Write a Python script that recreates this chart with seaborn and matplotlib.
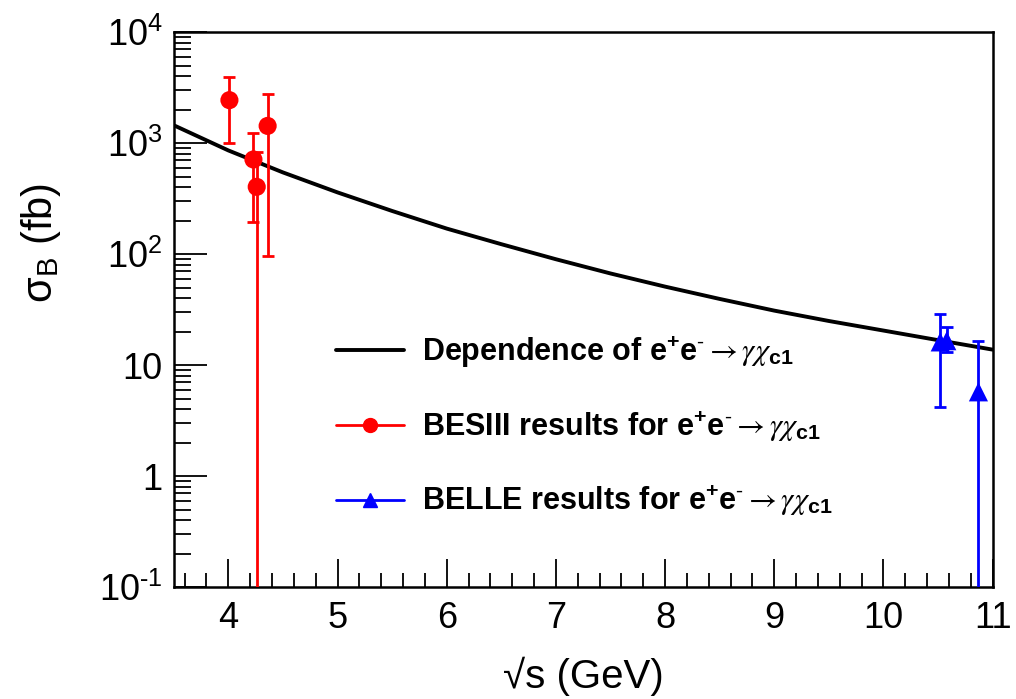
import numpy as np
import pandas as pd
import seaborn as sns
import matplotlib
matplotlib.use("Agg")
import matplotlib.pyplot as plt
from matplotlib.lines import Line2D
from matplotlib.ticker import FixedLocator, FixedFormatter, LogLocator, NullFormatter, MultipleLocator

# theory curve
curve_x = [3.5, 4.0, 4.5, 5.0, 5.5, 6.0, 6.5, 7.0, 7.5, 8.0, 8.5, 9.0, 9.5, 10.0, 10.5, 11.0]
curve_y = [1450, 860, 545, 360, 245, 170, 123, 90, 67, 51, 39.5, 31, 25, 20.5, 16.8, 13.8]

# BESIII points
bes_x = [4.01, 4.23, 4.26, 4.36]
bes_y = [2440, 713, 404, 1430]
bes_hi = [3940, 1240, 830, 2760]
bes_lo = [1000, 193, 0.0, 97]

# BELLE points
belle_x = [10.52, 10.58, 10.87]
belle_y = [16.2, 16.6, 5.75]
belle_hi = [28.8, 21.9, 16.4]
belle_lo = [4.2, 13.2, 0.0]

y_ticks = [0.1, 1, 10, 100, 1000, 10000]
y_tick_labels = ['$\\mathregular{10^{\\text{-}1}}$', '1', '10', r'$\mathregular{10^{2}}$',
                 r'$\mathregular{10^{3}}$', r'$\mathregular{10^{4}}$']
reaction = r'$\mathregular{e^{+}e^{\text{-}}}$$\rightarrow\gamma\chi_{\mathregular{c1}}$'
labels = ['Dependence of ' + reaction,
          'BESIII results for ' + reaction,
          'BELLE results for ' + reaction]


def main():
    sns.set_theme(style='ticks')
    plt.rcParams['font.family'] = ['Liberation Sans', 'DejaVu Sans']
    plt.rcParams['mathtext.fontset'] = 'stix'
    plt.rcParams['text.color'] = 'black'
    plt.rcParams['axes.labelcolor'] = 'black'

    fig = plt.figure(figsize=(10.16, 6.99), dpi=100)
    ax = fig.add_axes([0.171, 0.160, 0.806, 0.794])

    curve = pd.DataFrame({'x': curve_x, 'y': curve_y})
    sns.lineplot(data=curve, x='x', y='y', color='black', lw=2.8, ax=ax)

    # error bars
    for xs, ys, hi, lo, col in [(bes_x, bes_y, bes_hi, bes_lo, 'red'),
                                (belle_x, belle_y, belle_hi, belle_lo, 'blue')]:
        ys = np.array(ys)
        err = [ys - np.array(lo), np.array(hi) - ys]
        ax.errorbar(xs, ys, yerr=err, fmt='none', ecolor=col, elinewidth=2,
                    capsize=4, capthick=2, zorder=3)

    bes = pd.DataFrame({'x': bes_x, 'y': bes_y})
    belle = pd.DataFrame({'x': belle_x, 'y': belle_y})
    sns.scatterplot(data=bes, x='x', y='y', color='red', marker='o', s=170,
                    edgecolor='none', ax=ax, zorder=4)
    sns.scatterplot(data=belle, x='x', y='y', color='blue', marker='^', s=190,
                    edgecolor='none', ax=ax, zorder=4)

    ax.set_yscale('log')
    ax.set_xlim(3.5, 11)
    ax.set_ylim(0.1, 10000)

    ax.yaxis.set_major_locator(FixedLocator(y_ticks))
    ax.yaxis.set_major_formatter(FixedFormatter(y_tick_labels))
    ax.yaxis.set_minor_locator(LogLocator(base=10, subs=np.arange(2, 10)))
    ax.yaxis.set_minor_formatter(NullFormatter())
    ax.xaxis.set_major_locator(MultipleLocator(1))
    ax.xaxis.set_minor_locator(MultipleLocator(0.2))

    ax.tick_params(which='both', direction='in', top=False, right=False,
                   bottom=True, left=True, width=1.3, colors='black')
    ax.tick_params(axis='y', which='major', length=24, labelsize=26, pad=8)
    ax.tick_params(axis='y', which='minor', length=12)
    ax.tick_params(axis='x', which='major', length=20, labelsize=26, pad=10)
    ax.tick_params(axis='x', which='minor', length=10)
    for sp in ax.spines.values():
        sp.set_color('black')
        sp.set_linewidth(1.8)

    ax.set_xlabel('√s (GeV)', fontsize=29)
    ax.xaxis.set_label_coords(0.5, -0.125)
    ax.set_ylabel(r'$\mathregular{σ_{B}}$ (fb)', fontsize=30)
    ax.yaxis.set_label_coords(-0.135, 0.62)

    handles = [Line2D([], [], color='black', lw=2.8),
               Line2D([], [], color='red', lw=2, marker='o', markersize=10),
               Line2D([], [], color='blue', lw=2, marker='^', markersize=10)]
    ax.legend(handles, labels, loc='upper left', bbox_to_anchor=(0.165, 0.505),
              frameon=False, prop={'size': 22, 'weight': 'bold'},
              handlelength=2.2, labelspacing=1.3, handletextpad=0.6)

    fig.savefig('out.png', dpi=100)


if __name__ == '__main__':
    main()
